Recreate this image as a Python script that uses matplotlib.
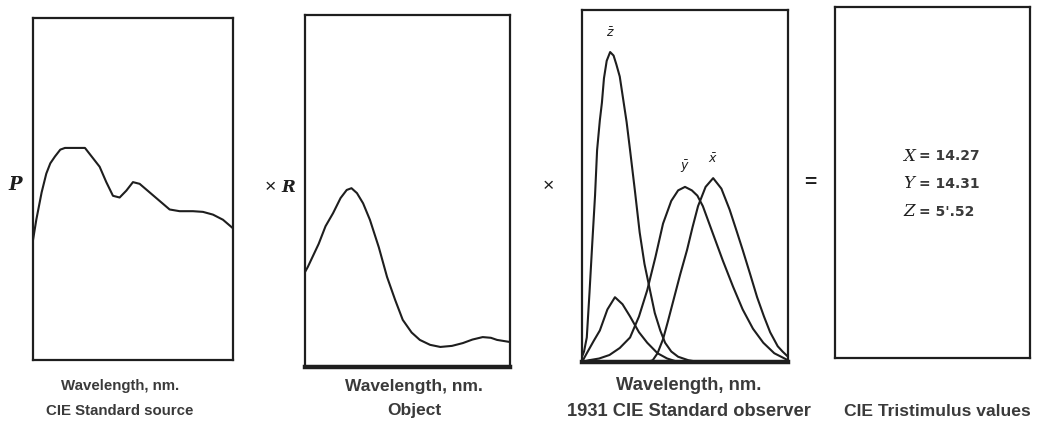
import matplotlib.pyplot as plt

plt.rcParams['font.family'] = ['Liberation Sans', 'DejaVu Sans']

# panel 1: CIE standard source (relative power)
src_wl = [400, 405, 413, 420, 426, 433, 441, 448, 463, 478, 490, 500, 510, 520, 530,
          540, 550, 560, 575, 590, 605, 620, 640, 655, 670, 685, 700]
src_p = [0.35, 0.41, 0.49, 0.545, 0.575, 0.595, 0.615, 0.62, 0.62, 0.62, 0.59, 0.565,
         0.52, 0.48, 0.475, 0.495, 0.52, 0.515, 0.49, 0.465, 0.44, 0.435, 0.435, 0.433,
         0.425, 0.41, 0.385]

# panel 2: object reflectance
obj_wl = [400, 404, 420, 430, 441, 452, 461, 468, 476, 485, 495, 508, 520, 532, 543,
          556, 568, 583, 598, 615, 631, 645, 660, 672, 681, 700]
obj_r = [0.27, 0.284, 0.35, 0.40, 0.437, 0.48, 0.503, 0.508, 0.494, 0.465, 0.418, 0.34,
         0.256, 0.19, 0.134, 0.098, 0.077, 0.063, 0.057, 0.06, 0.068, 0.078, 0.085,
         0.083, 0.077, 0.071]

# panel 3: 1931 standard observer
ybar_wl = [400, 410, 425, 440, 455, 470, 483, 495, 507, 518, 530, 540, 550, 560, 568,
           576, 590, 605, 620, 634, 649, 664, 680, 690, 700]
ybar = [0.0, 0.01, 0.02, 0.04, 0.08, 0.14, 0.26, 0.41, 0.6, 0.79, 0.92, 0.98, 1.0, 0.98,
        0.95, 0.89, 0.74, 0.58, 0.43, 0.30, 0.19, 0.11, 0.05, 0.03, 0.01]

xbar_wl = [495, 503, 510, 518, 525, 533, 543, 553, 561, 569, 580, 591, 603, 615, 625,
           634, 645, 655, 665, 674, 685, 692, 700]
xbar = [0.0, 0.01, 0.05, 0.13, 0.23, 0.35, 0.5, 0.64, 0.77, 0.89, 1.0, 1.05, 0.99, 0.87,
        0.75, 0.64, 0.5, 0.37, 0.26, 0.17, 0.09, 0.06, 0.03]

xbar_blue_wl = [400, 407, 417, 426, 437, 448, 459, 470, 483, 495, 510, 524, 540]
xbar_blue = [0.0, 0.05, 0.12, 0.18, 0.3, 0.37, 0.33, 0.26, 0.17, 0.11, 0.05, 0.02, 0.0]

zbar_wl = [400, 403, 407, 411, 415, 419, 422, 426, 429, 432, 436, 441, 446, 450, 455,
           460, 465, 470, 477, 484, 491, 499, 506, 514, 521, 530, 540, 555, 570]
zbar = [0.03, 0.06, 0.14, 0.4, 0.68, 0.95, 1.21, 1.38, 1.48, 1.62, 1.72, 1.77, 1.75, 1.7,
        1.63, 1.50, 1.37, 1.21, 0.98, 0.74, 0.56, 0.41, 0.28, 0.18, 0.11, 0.06, 0.03,
        0.01, 0.0]

tristimulus = [('X', '14.27'), ('Y', '14.31'), ('Z', "5'.52")]

ink = '#1e1e1e'
txt = '#3a3a3a'

fig = plt.figure(figsize=(10.4, 4.28), dpi=100)

def panel(rect, bottom_lw=1.6):
    ax = fig.add_axes(rect)
    ax.set_xticks([])
    ax.set_yticks([])
    for s in ax.spines.values():
        s.set_color(ink)
        s.set_linewidth(1.6)
    ax.spines['bottom'].set_linewidth(bottom_lw)
    return ax

ax1 = panel([0.0317, 0.159, 0.1923, 0.799])
ax1.plot(src_wl, src_p, color=ink, lw=1.5)
ax1.set_xlim(400, 700)
ax1.set_ylim(0, 1)

ax2 = panel([0.2933, 0.1425, 0.1971, 0.8224], bottom_lw=3.2)
ax2.plot(obj_wl, obj_r, color=ink, lw=1.5)
ax2.set_xlim(400, 700)
ax2.set_ylim(0, 1)

ax3 = panel([0.5596, 0.1542, 0.1981, 0.8224], bottom_lw=3.2)
for wl, v in [(zbar_wl, zbar), (xbar_blue_wl, xbar_blue), (ybar_wl, ybar), (xbar_wl, xbar)]:
    ax3.plot(wl, v, color=ink, lw=1.5)
ax3.set_xlim(400, 700)
ax3.set_ylim(0, 2.01)
ax3.text(441, 1.84, r'$\bar{z}$', ha='center', va='bottom', fontsize=9, color=ink)
ax3.text(550, 1.07, r'$\bar{y}$', ha='center', va='bottom', fontsize=9, color=ink)
ax3.text(591, 1.12, r'$\bar{x}$', ha='center', va='bottom', fontsize=9, color=ink)

ax4 = panel([0.8029, 0.1636, 0.1875, 0.82])
ax4.set_xlim(0, 1)
ax4.set_ylim(0, 1)
for i, (sym, val) in enumerate(tristimulus):
    yy = 0.575 - i * 0.079
    ax4.text(0.38, yy, sym, ha='center', va='center', fontsize=12, style='italic',
             family='DejaVu Serif', color=ink)
    ax4.text(0.43, yy, '= ' + val, ha='left', va='center', fontsize=10,
             fontweight='bold', family='DejaVu Sans', color=txt)

# operators between the panels
fig.text(15 / 1040, 1 - 185 / 428, 'P', ha='center', va='center', fontsize=13,
         style='italic', fontweight='bold', family='DejaVu Serif', color=ink)
fig.text(270 / 1040, 1 - 188 / 428, '×', ha='center', va='center', fontsize=14, color=ink)
fig.text(288 / 1040, 1 - 187 / 428, 'R', ha='center', va='center', fontsize=12,
         style='italic', fontweight='bold', family='DejaVu Serif', color=ink)
fig.text(548 / 1040, 1 - 187 / 428, '×', ha='center', va='center', fontsize=14, color=ink)
fig.text(810 / 1040, 1 - 182 / 428, '=', ha='center', va='center', fontsize=15,
         fontweight='bold', color=ink)

# captions (the scan prints them at slightly different sizes)
captions = [(120, 10.8, ['Wavelength, nm.', 'CIE Standard source']),
            (414, 12.5, ['Wavelength, nm.', 'Object']),
            (689, 13.2, ['Wavelength, nm.', '1931 CIE Standard observer']),
            (937, 12.6, [None, 'CIE Tristimulus values'])]
for cx, fs, lines in captions:
    for ly, s in zip([386, 411], lines):
        if s:
            fig.text(cx / 1040, 1 - ly / 428, s, ha='center', va='center', fontsize=fs,
                     fontweight='bold', color=txt)

fig.savefig('out.png', dpi=100)
